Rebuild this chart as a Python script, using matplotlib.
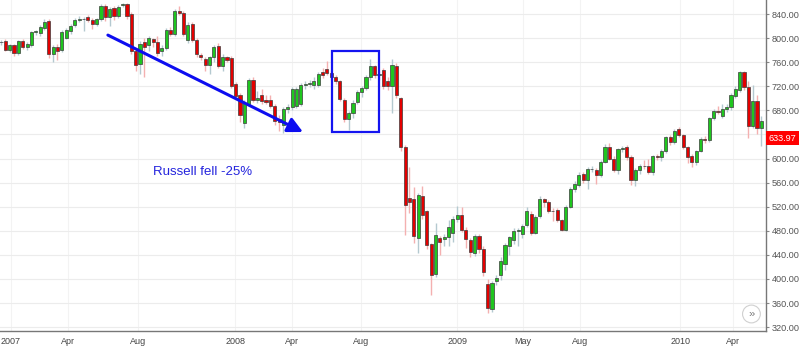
import matplotlib
matplotlib.use('agg')
import numpy as np
import matplotlib.pyplot as plt
import matplotlib.transforms as mtransforms
from matplotlib.patches import Rectangle
from matplotlib.ticker import FuncFormatter

plt.rcParams['font.family'] = ['Liberation Sans', 'DejaVu Sans']

# weekly Russell 2000 candles, oldest first
opens = [
    793, 795, 781, 789, 775, 795, 786, 789, 810, 809,
    817, 828, 774, 785, 780, 801, 812, 822, 830, 831.5,
    834.5, 830, 823, 832, 854, 834.5, 850, 836, 854.5, 856.5,
    840, 779, 757, 793, 789, 798, 794, 778, 783, 813.5,
    806, 845, 842, 797, 823, 797, 772, 765, 755.5, 768,
    787, 753, 768, 767, 723, 705, 659, 690, 731, 698,
    705, 698, 697, 688, 665, 656, 683, 685, 688, 690,
    722, 724, 722, 722, 744, 748, 742, 735, 728, 697,
    665, 675, 694, 710, 717, 735, 753, 738, 747, 728,
    720, 754, 700, 619, 535, 532, 468, 538, 512, 458,
    408, 468, 466, 470, 476, 499, 507, 482, 465, 443,
    471, 450, 391, 350, 396, 406, 424, 454, 465, 480,
    475, 490, 508, 477, 505, 532, 528, 513, 514, 498,
    482, 519, 549, 556, 574, 564, 582, 581, 572, 595,
    619, 600, 581, 616, 619, 603, 564, 581, 588, 587,
    577, 604, 602, 612, 635, 627, 649, 639, 619, 604,
    595, 612, 633, 630, 667, 679, 671, 682, 686, 704,
    714, 743, 718, 654, 695, 650,
]
closes = [
    793.5, 781, 789, 775, 795, 786, 790, 810, 811.5, 818,
    827, 774, 786, 778, 810, 813, 820, 830, 832, 832,
    830.5, 824, 831, 854, 834.5, 849, 836, 852, 856.5, 836,
    779, 756, 790, 785, 800, 793, 775, 783, 813.5, 806,
    845.5, 842, 806, 822, 797, 773, 768, 755.5, 768, 785.5,
    753, 769, 764, 720.5, 704, 673, 693, 730, 698, 701,
    695, 694, 688, 662, 661, 683, 686, 716, 715, 722,
    724, 726, 728, 741, 738, 742, 735, 728, 699, 665,
    675, 693, 710, 717, 735, 753, 738, 741, 721, 721,
    755, 706, 619, 523, 527, 472, 539, 507, 457, 406,
    473, 461, 470, 487, 500, 507, 482, 467, 444, 471,
    450, 412, 351, 394, 401, 430, 457, 469, 480, 481,
    488, 513, 476, 503, 532, 528, 513, 512, 498, 482,
    519, 550, 557, 573, 564, 582, 583, 572, 595, 619,
    600, 581, 616, 617, 602, 564, 581, 588, 587, 577,
    604, 602, 612, 635, 627, 646, 639, 619, 603, 595,
    612, 633, 630, 667, 679, 678, 682, 686, 705, 716,
    743, 718, 654, 695, 650, 662,
]
highs = [
    797, 798, 791, 791, 797, 799, 793, 812, 814, 821,
    831, 831, 789, 791, 813, 816, 824, 833, 836, 835,
    838, 833, 834, 857, 857, 852, 853, 855, 859, 858,
    843, 784, 796, 800, 803, 801, 804, 788, 816, 818,
    848, 853, 845, 827, 827, 800, 775, 769, 770, 788,
    792, 774, 771, 770, 727, 708, 697, 734, 735, 712,
    715, 705, 706, 691, 673, 686, 690, 719, 718, 726,
    728, 731, 735, 744, 750, 762, 746, 738, 731, 700,
    679, 697, 714, 721, 738, 766, 756, 745, 751, 735,
    765, 758, 703, 622, 586, 552, 543, 554, 515, 460,
    493, 472, 475, 498, 505, 521, 520, 486, 468, 475,
    474, 455, 400, 397, 406, 436, 460, 472, 484, 485,
    492, 519, 512, 506, 538, 535, 531, 517, 517, 500,
    522, 553, 562, 577, 577, 586, 588, 585, 598, 624,
    626, 604, 618, 621, 622, 606, 585, 591, 597, 600,
    606, 608, 615, 637, 639, 649, 652, 641, 621, 607,
    614, 636, 637, 669, 682, 687, 690, 690, 708, 720,
    745, 746, 728, 722, 705, 670,
]
lows = [
    789, 778, 777, 771, 772, 782, 780, 786, 805, 804,
    813, 767, 760, 763, 777, 798, 806, 818, 826, 812,
    826, 815, 820, 829, 829, 820, 830, 833, 851, 832,
    774, 746, 741, 736, 778, 786, 770, 771, 781, 803,
    804, 838, 803, 792, 793, 768, 764, 746, 740, 761,
    750, 745, 760, 717, 699, 660, 650, 688, 694, 693,
    690, 690, 684, 655, 645, 643, 675, 680, 684, 687,
    716, 719, 716, 719, 733, 738, 730, 723, 695, 660,
    648, 667, 690, 703, 713, 731, 733, 730, 715, 713,
    675, 700, 612, 473, 510, 460, 443, 500, 450, 374,
    404, 440, 455, 455, 462, 495, 478, 452, 436, 438,
    443, 405, 343, 345, 390, 398, 414, 440, 458, 455,
    468, 487, 473, 474, 502, 520, 510, 496, 495, 479,
    479, 517, 545, 553, 560, 550, 577, 558, 570, 593,
    597, 578, 575, 610, 598, 556, 554, 575, 583, 575,
    573, 598, 596, 609, 623, 624, 636, 615, 593, 586,
    589, 610, 625, 627, 664, 674, 668, 678, 680, 700,
    710, 714, 634, 650, 640, 620,
]

tick_labels = ['2007', 'Apr', 'Aug', '2008', 'Apr', 'Aug', '2009', 'May', 'Aug', '2010', 'Apr']
tick_pos = [2.3, 15.5, 31.6, 53.9, 67.0, 82.9, 105.0, 120.1, 133.3, 156.3, 168.5]
price_ticks = list(range(320, 841, 40))
last_price = 633.97
note = 'Russell fell -25%'

o = np.array(opens, dtype=float)
c = np.array(closes, dtype=float)
h = np.array(highs, dtype=float)
l = np.array(lows, dtype=float)
x = np.arange(len(o))
up = c >= o

fig = plt.figure(figsize=(8, 3.48), dpi=100)
ax = fig.add_axes([0, 17 / 348, 766 / 800, 331 / 348])

# wicks
ax.vlines(x[up], l[up], h[up], color='#b4c9d0', lw=1, zorder=2)
ax.vlines(x[~up], l[~up], h[~up], color='#f4b0b0', lw=1, zorder=2)

# bodies
bottom = np.minimum(o, c)
height = np.maximum(np.abs(c - o), 0.8)
ax.bar(x[up], height[up], 0.72, bottom=bottom[up], color='#1fc61f',
       edgecolor='#3c3c3c', linewidth=0.5, zorder=3)
ax.bar(x[~up], height[~up], 0.72, bottom=bottom[~up], color='#e40000',
       edgecolor='#3c3c3c', linewidth=0.5, zorder=3)

ax.set_xlim(-0.23, 176.06)
ax.set_ylim(313.5, 863.3)


def price_fmt(v, pos):
    # the last-price tag sits on top of the nearest label
    if abs(v - last_price) < 12:
        return ''
    return '%.2f' % v


# axes / grid
ax.yaxis.tick_right()
ax.set_yticks(price_ticks)
ax.yaxis.set_major_formatter(FuncFormatter(price_fmt))
ax.set_xticks(tick_pos)
ax.set_xticklabels(tick_labels)
ax.grid(axis='y', color='#ececec', lw=0.8, zorder=0)
ax.grid(axis='x', color='#f3f3f3', lw=0.8, zorder=0)
ax.tick_params(axis='y', labelsize=6.6, labelcolor='#555555', color='#888888',
               length=2.5, pad=1.5)
ax.tick_params(axis='x', labelsize=6.5, labelcolor='#444444', length=0, pad=4)
for side in ['top', 'left']:
    ax.spines[side].set_visible(False)
for side in ['right', 'bottom']:
    ax.spines[side].set_color('#777777')
    ax.spines[side].set_linewidth(1)

# annotations
ax.annotate('', xy=(69.5, 644), xytext=(24.6, 805),
            arrowprops=dict(arrowstyle='-|>,head_length=0.9,head_width=0.45',
                            color='#0d0df0', lw=2.2, shrinkA=0, shrinkB=0),
            zorder=6)
ax.add_patch(Rectangle((76.1, 643.5), 11.0, 135.0, fill=False,
                       ec='#1414f0', lw=1.6, zorder=6))
ax.text(46.3, 577.6, note, color='#2424dd', fontsize=9.5,
        ha='center', va='center')

# last price tag
trans = mtransforms.blended_transform_factory(ax.transAxes, ax.transData)
ax.text(1.003, last_price, '%.2f' % last_price, transform=trans, color='white',
        fontsize=6.6, ha='left', va='center', clip_on=False, zorder=10,
        bbox=dict(boxstyle='square,pad=0.3', fc='#ff0000', ec='none'))

# scroll button
ax.text(0.981, 0.0514, '\u00bb', transform=ax.transAxes, ha='center', va='center',
        fontsize=8, color='#777777',
        bbox=dict(boxstyle='circle,pad=0.35', fc='white', ec='#d0d0d0', lw=0.8))

fig.savefig('out.png', dpi=100)
